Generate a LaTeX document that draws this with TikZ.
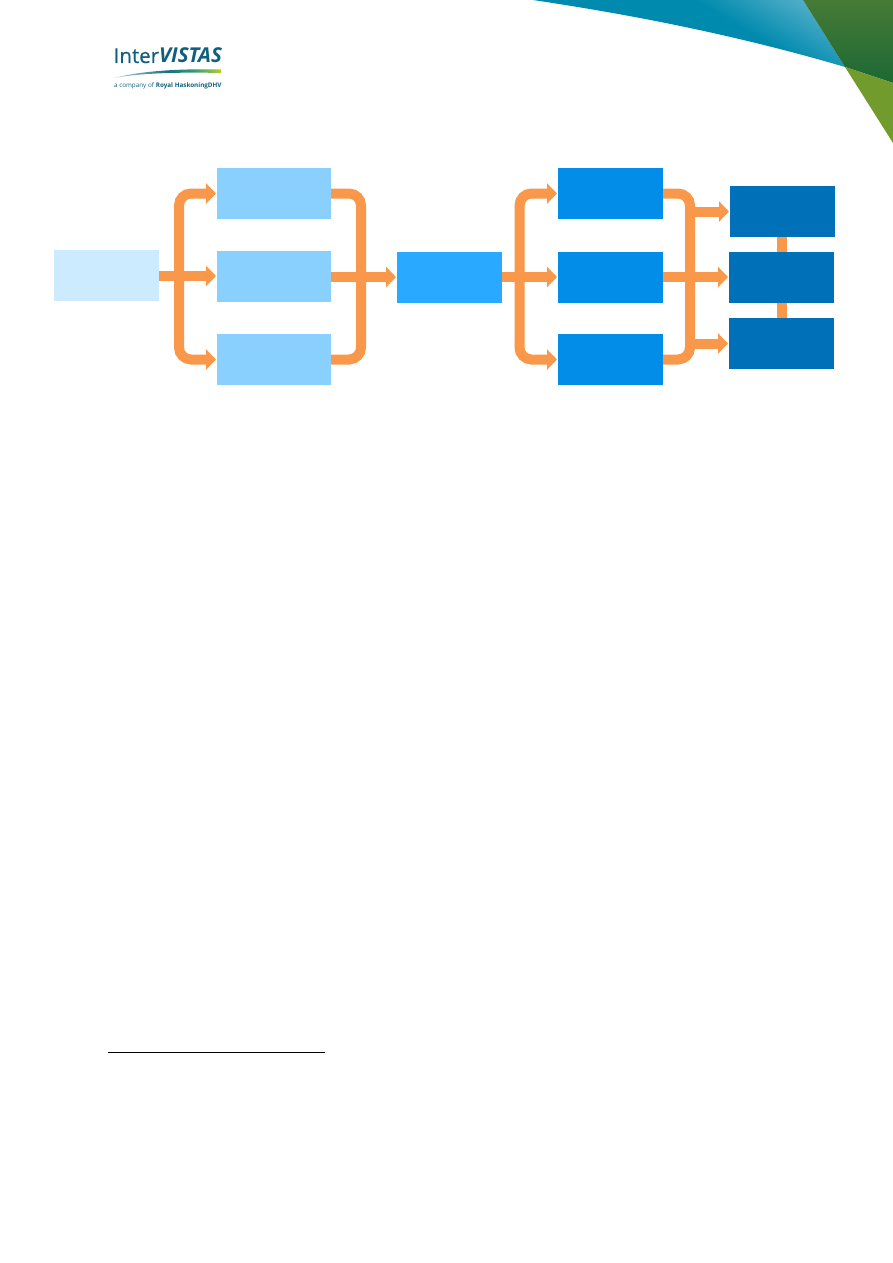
\documentclass[tikz,border=0pt]{standalone}
\usepackage{fontspec}
\setmainfont{Open Sans}
\newfontfamily\logofont[FakeBold=0.45]{Open Sans}
\usetikzlibrary{%
  arrows.meta,%
  calc,%
  positioning%
}
\definecolor{flowor}{HTML}{F9974A}
\definecolor{palebl}{HTML}{CCEBFF}
\definecolor{lightbl}{HTML}{89D0FF}
\definecolor{midbl}{HTML}{29A9FF}
\definecolor{strongbl}{HTML}{028EE8}
\definecolor{deepbl}{HTML}{0070B8}
\definecolor{logobl}{HTML}{0F5F7E}
\definecolor{bandbl}{HTML}{008AAE}
\definecolor{bandlt}{HTML}{5DB3CC}
\definecolor{leafdk}{HTML}{1D6834}
\definecolor{leaftp}{HTML}{467A36}
\definecolor{leaflt}{HTML}{719B2D}
\definecolor{swlt}{HTML}{B8D0D8}
\definecolor{swmd}{HTML}{2F9A78}
\definecolor{swye}{HTML}{B8CD28}
\pgfdeclarehorizontalshading{bandshade}{100bp}{color(0bp)=(bandbl);color(60bp)=(bandbl);color(80bp)=(bandlt);color(100bp)=(bandlt)}
\pgfdeclarehorizontalshading{swooshshade}{100bp}{color(0bp)=(swlt);color(25bp)=(swlt);color(50bp)=(logobl!70!swmd);color(62bp)=(swmd);color(75bp)=(swye);color(100bp)=(swye)}
\tikzset{
  blk/.style={minimum height=51pt,inner sep=0pt,outer sep=0pt},
  blkw/.style={blk,minimum width=105pt},
  flow/.style={draw=flowor,line width=10pt,rounded corners=12pt},
  flowto/.style={flow,-{Triangle[length=10pt,width=20pt]},shorten >=1pt},
}

\begin{document}
\begin{tikzpicture}[x=1pt,y=-1pt]
\useasboundingbox (0,0) rectangle (893,1263);

% corner
\shade[shading=bandshade,shading angle=60]
  (533,0) .. controls (620,13) and (730,33) .. (845,67) -- (803,0) -- cycle;
\shade[top color=leaftp,bottom color=leafdk]
  (803,0) -- (893,0) -- (893,83) -- (845,67) -- cycle;
\fill[leaflt] (845,67) -- (893,83) -- (893,143) -- cycle;

% logo
\node[anchor=base west,inner sep=0pt,text=logobl,font=\fontsize{20.5}{21}\selectfont] (logoname) at (113.5,63)
  {{\logofont Inter}\textit{\textbf{VISTAS}}};
\shade[shading=swooshshade]
  (114,78) .. controls (140,71) and (180,68.5) .. (221,69.5) -- (221,73) .. controls (180,72) and (140,73) .. (114,78) -- cycle;
\node[anchor=base west,inner sep=0pt,text=logobl,font=\fontsize{6.3}{7}\selectfont] (logosub) at (114,87)
  {a company of \textbf{Royal HaskoningDHV}};

% boxes
\node[blkw,fill=palebl] (start) at (106.5,275.5) {};
\foreach \n/\y in {1/193.5,2/276.5,3/359.5} {
  \node[blk,minimum width=114pt,fill=lightbl] (a\n) at (274,\y) {};
}
\node[blkw,fill=midbl] (hub) at (449.5,277.5) {};
\foreach \n/\y in {1/193.5,2/277.5,3/359.5} {
  \node[blkw,fill=strongbl] (b\n) at (610.5,\y) {};
}
\node[blkw,fill=deepbl] (c1) at (782.5,211.5) {};
\node[blkw,fill=deepbl] (c2) at (781.5,277.5) {};
\node[blkw,fill=deepbl] (c3) at (781.5,343.5) {};

% first fork
\coordinate (forka) at (179,276);
\coordinate (joina) at (361,277);
\draw[flowto] (start.east |- forka) -- (a2.west |- forka);
\draw[flowto] (forka) |- (a1.west);
\draw[flowto] (forka) |- (a3.west);
\draw[flow] (a1.east) -| (joina) |- (a3.east);
\draw[flowto] (a2.east |- joina) -- (hub.west |- joina);

% second fork
\coordinate (forkb) at (519.5,277);
\coordinate (joinb) at (690,277);
\draw[flowto] (hub.east |- forkb) -- (b2.west |- forkb);
\draw[flowto] (forkb) |- (b1.west);
\draw[flowto] (forkb) |- (b3.west);
\draw[flow] (b1.east) -| (joinb) |- (b3.east);
\draw[flowto] (b2.east |- joinb) -- (c2.west |- joinb);
\draw[flowto] (joinb |- c1.west) -- (c1.west);
\draw[flowto] (joinb |- c3.west) -- (c3.west);

% links
\draw[flow] (c2.north) -- (c2.north |- c1.south);
\draw[flow] (c2.south) -- (c3.north);

% footnote rule
\coordinate (rulel) at (108,1052);
\coordinate (ruler) at (325,1052);
\draw[line width=0.8pt] (rulel) -- (ruler);
\end{tikzpicture}
\end{document}
